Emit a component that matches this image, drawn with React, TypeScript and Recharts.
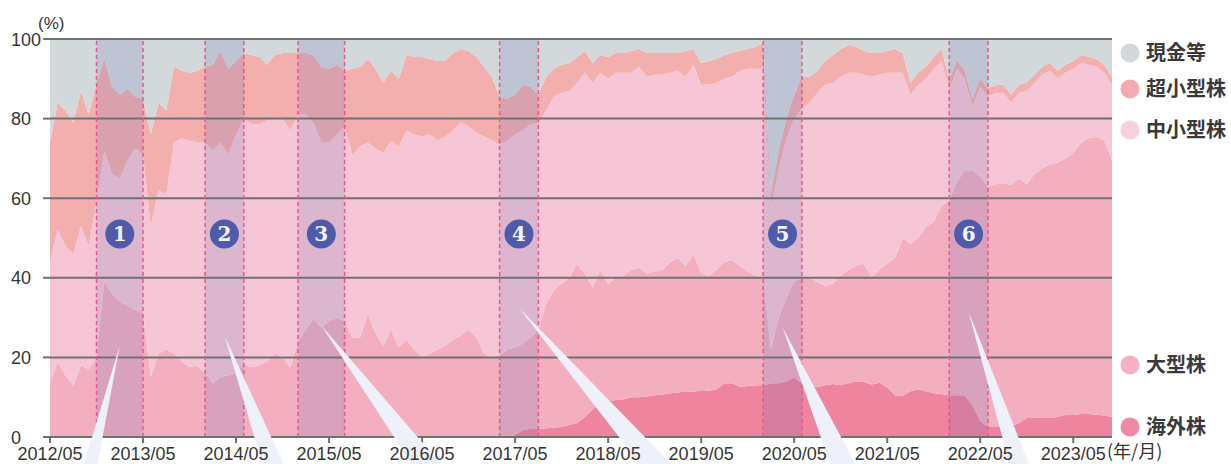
import React from 'react';
import { AreaChart, Area, XAxis, YAxis, ReferenceArea, ReferenceLine, ReferenceDot } from 'recharts';

// ---- categories (monthly, 2012/05 .. 2023/10) ----
const START_YEAR = 2012;
const START_MONTH = 5;
const N_MONTHS = 138;
const MONTHS: string[] = Array.from({ length: N_MONTHS }, (_, i) => {
  const m = START_MONTH - 1 + i;
  return `${START_YEAR + Math.floor(m / 12)}/${String((m % 12) + 1).padStart(2, '0')}`;
});

const X_TICK_LABELS = ['2012/05', '2013/05', '2014/05', '2015/05', '2016/05', '2017/05', '2018/05', '2019/05', '2020/05', '2021/05', '2022/05', '2023/05'];
const Y_TICKS = [0, 20, 40, 60, 80, 100];

// ---- series values (%), one row per year May..Apr ----
const OVERSEAS = [
  0, 0, 0, 0, 0, 0, 0, 0, 0, 0, 0, 0,
  0, 0, 0, 0, 0, 0, 0, 0, 0, 0, 0, 0,
  0, 0, 0, 0, 0, 0, 0, 0, 0, 0, 0, 0,
  0, 0, 0, 0, 0, 0, 0, 0, 0, 0, 0, 0,
  0, 0, 0, 0, 0, 0, 0, 0, 0, 0, 0, 0,
  0.5, 1.8, 2, 2, 2.2, 2.3, 2.5, 3, 3.5, 5, 7, 8.5,
  9, 9.3, 9.5, 10, 10, 10.2, 10.5, 10.7, 11, 11.2, 11.5, 11.3,
  11.8, 11.6, 12, 13.5, 13.5, 12.6, 12.8, 13, 13, 13.5, 13.5, 14,
  15, 13.5, 12.8, 12.5, 13, 13.3, 13, 13.5, 14, 13.8, 13.2, 13.6,
  12.5, 10.5, 10.3, 11.5, 12, 11.5, 11, 10.8, 10.5, 10.5, 10.5, 8,
  4, 2.5, 2.5, 2.5, 2.8, 3.5, 4.8, 4.8, 4.8, 4.8, 5, 5.5,
  5.5, 5.8, 5.8, 5.6, 5.4, 5,
];

const LARGE = [
  13.5, 19, 15.5, 13, 18, 17, 20, 39, 36, 34, 33, 32,
  31, 15, 21, 22, 21, 19, 17.5, 18, 16, 13.5, 15, 15.5,
  16, 18.5, 17.5, 18, 19, 21, 20, 17.5, 24, 27, 29.5, 27.5,
  29, 30, 29, 25, 25, 31, 26, 23, 27, 22.5, 24.5, 22,
  20, 21, 22, 23, 24.5, 25.5, 27, 25, 21, 20, 20.5, 22,
  22, 21.7, 23, 25, 31.3, 34.7, 36, 37, 40, 36, 30.5, 33.5,
  29.5, 30.7, 31, 32, 32.5, 30.8, 31, 31.3, 33, 33.8, 31.5, 34.7,
  29.2, 28.9, 30, 30.5, 31, 30.4, 28.7, 27.5, 27, 8.5, 16.5, 21,
  24, 26.5, 27.2, 26.5, 25, 25.2, 27.5, 28.5, 29, 29.7, 26.8, 28.4,
  31, 34.5, 39.7, 37, 38, 41.3, 43, 47.2, 49, 53.5, 56.5, 59,
  61.3, 60.3, 61, 61.3, 60.5, 61.5, 58.7, 61.2, 62.7, 63.7, 64, 64.5,
  66, 68.2, 69.4, 69.8, 69.2, 64.6,
];

const MIDSMALL = [
  30.5, 33, 32.5, 33, 35, 31, 39, 33, 30, 31, 36.5, 40.5,
  40, 38, 41, 39, 53, 56, 57, 56, 58, 58.5, 59, 55.5,
  60, 61.5, 61, 60.5, 60.5, 59, 60, 59.5, 57, 54, 49.5, 46.5,
  45, 46, 49, 46, 48, 43, 46.5, 48.5, 47.5, 50.5, 52.5, 54,
  55.5, 55, 52.5, 52.5, 52.5, 53.5, 51, 51.5, 54.5, 54.5, 53, 52.5,
  53.5, 53.5, 53.5, 52, 48.5, 48.5, 48, 47, 45.5, 50.5, 51.5, 49.5,
  51.5, 51.5, 51, 49.5, 50.5, 49.5, 49.5, 49, 47.5, 47, 47.5, 47.5,
  47.5, 48, 47, 46, 46, 49, 51, 52, 52.5, 36, 37, 40,
  41, 42.5, 44, 47.5, 50.5, 50.5, 50, 49.5, 48.5, 47.5, 50.5, 49,
  48, 46.5, 41.5, 37.5, 38.5, 37.2, 38.5, 36.5, 28, 28.5, 23, 16,
  22.7, 22.9, 22.9, 22.7, 20.7, 21.5, 23.5, 23, 23.5, 23.5, 21, 21.5,
  21, 20, 18.3, 17.6, 16.9, 18.9,
];

const MICRO = [
  30, 32, 34, 33, 34, 33, 30, 23, 22, 21, 18, 13,
  14, 23, 22, 21, 19, 17, 17, 18, 19, 21.5, 23, 21.5,
  18.5, 16.5, 17.5, 17, 14, 16, 16.5, 19.5, 15.5, 15.5, 17, 19,
  18.5, 17.5, 14, 21.5, 20, 21, 20, 17.5, 17.5, 17, 19, 19.5,
  20, 19, 20, 19, 19.5, 18.5, 19, 19, 17.5, 16, 12, 10.5,
  10, 11.5, 9.5, 7, 8.5, 7, 7, 7, 6.5, 5.5, 5, 4.5,
  5.5, 5, 5, 5.5, 4.5, 6, 5.5, 5.5, 5, 4.5, 6.5, 4,
  5.5, 6, 6, 6, 6, 5, 5, 5.5, 6.5, 3, 5, 5,
  6, 8, 6.5, 5.5, 6, 7, 7, 7, 6.5, 6, 6, 5.5,
  5.5, 6, 5, 3, 3, 3, 3, 3, 2.2, 2.2, 2, 2,
  2, 2, 2, 2, 2, 2, 2, 2, 2, 2, 2, 2,
  2, 2, 2, 2, 2, 2,
];

const CASH = [
  26, 16, 18, 21, 13, 19, 11, 5, 12, 14, 12.5, 14.5,
  15, 24, 16, 18, 7, 8, 8.5, 8, 7, 6.5, 3, 7.5,
  5.5, 3.5, 4, 4.5, 6.5, 4, 3.5, 3.5, 3.5, 3.5, 4, 7,
  7.5, 6.5, 8, 7.5, 7, 5, 7.5, 11, 8, 10, 4, 4.5,
  4.5, 5, 5.5, 5.5, 3.5, 2.5, 3, 4.5, 7, 9.5, 14.5, 15,
  14, 11.5, 12, 14, 9.5, 7.5, 6.5, 6, 4.5, 3, 6, 4,
  4.5, 3.5, 3.5, 3, 2.5, 3.5, 3.5, 3.5, 3.5, 3.5, 3, 2.5,
  6, 5.5, 5, 4, 3.5, 3, 2.5, 2, 1, 39, 28, 20,
  14, 9.5, 9.5, 8, 5.5, 4, 2.5, 1.5, 2, 3, 3.5, 3.5,
  3, 2.5, 3.5, 11, 8.5, 7, 4.5, 2.5, 10.3, 5.3, 8, 15,
  10, 12.3, 11.6, 11.5, 14, 11.5, 11, 9, 7, 6, 8, 6.5,
  5.5, 4, 4.5, 5, 6.5, 9.5,
];

// ---- highlighted periods ----
const BAND_FROM = ['2012/11', '2014/01', '2015/01', '2017/03', '2020/01', '2022/01'];
const BAND_TO = ['2013/05', '2014/06', '2015/07', '2017/08', '2020/06', '2022/06'];
const BAND_NUMBERS = ['1', '2', '3', '4', '5', '6'];
const BADGE_VALUE = 51;
// callout wedges: apex value (%), base horizontal offset & width (px)
const CALLOUT_APEX = [23, 25.5, 28, 32.5, 27.5, 31.5];
const CALLOUT_DX = [-30, 50, 108, 140, 62, 52];
const CALLOUT_W = [14, 22, 30, 32, 26, 20];

// ---- series meta ----
const SERIES = [
  { key: 'overseas', name: '海外株', color: '#ee849e', legend: '#ee8aa3' },
  { key: 'large', name: '大型株', color: '#f3afc0', legend: '#f3b1c2' },
  { key: 'midsmall', name: '中小型株', color: '#f7c6d6', legend: '#f8d0dd' },
  { key: 'micro', name: '超小型株', color: '#f3aeae', legend: '#f3abae' },
  { key: 'cash', name: '現金等', color: '#d3d8db', legend: '#d3d7db' },
];
const LEGEND_ORDER = ['cash', 'micro', 'midsmall', 'large', 'overseas'];
const LEGEND_Y = [53, 89, 130, 365, 427];

const data = MONTHS.map((m, i) => ({
  idx: i,
  month: m,
  overseas: OVERSEAS[i],
  large: LARGE[i],
  midsmall: MIDSMALL[i],
  micro: MICRO[i],
  cash: CASH[i],
}));

const idxOf = (label: string) => MONTHS.indexOf(label);
const X_TICKS = X_TICK_LABELS.map(idxOf);

const GRID = '#707070';
const TEXT = '#363636';
const FONT = '"Liberation Sans", Arial, Helvetica, sans-serif';
const CJK = '"Noto Sans CJK JP", "Noto Sans", sans-serif';

const YTick = (props: any) => {
  const { y, payload } = props;
  return (
    <g>
      <line x1={43} x2={50} y1={y} y2={y} stroke={GRID} strokeWidth={2} />
      <text x={11} y={y} dy={6.5} textAnchor="start" fontSize={18} fontFamily={FONT} fill={TEXT}>
        {payload.value}
      </text>
    </g>
  );
};

const XTick = (props: any) => {
  const { x, y, payload } = props;
  return (
    <text x={x} y={y} dy={15} textAnchor="middle" fontSize={18} fontFamily={FONT} fill={TEXT}>
      {MONTHS[payload.value]}
    </text>
  );
};

export default function App() {
  return (
    <div style={{ position: 'absolute', left: 0, top: 0, width: 1231, height: 464, background: '#fff', overflow: 'hidden' }}>
      <AreaChart
        width={1231}
        height={464}
        data={data}
        margin={{ top: 39, right: 119, left: 0, bottom: 0 }}
      >
        <XAxis
          dataKey="idx"
          type="number"
          domain={[0, N_MONTHS - 1]}
          ticks={X_TICKS}
          interval={0}
          height={27}
          tick={<XTick />}
          tickSize={6}
          tickLine={{ stroke: GRID, strokeWidth: 2 }}
          axisLine={{ stroke: GRID, strokeWidth: 2 }}
          allowDataOverflow
        />
        <YAxis
          type="number"
          domain={[0, 100]}
          ticks={Y_TICKS}
          interval={0}
          width={50}
          tick={<YTick />}
          tickLine={false}
          axisLine={false}
          allowDataOverflow
        />
        {SERIES.map((s) => (
          <Area
            key={s.key}
            dataKey={s.key}
            name={s.name}
            stackId="1"
            type="linear"
            stroke="none"
            fill={s.color}
            fillOpacity={1}
            dot={false}
            activeDot={false}
            isAnimationActive={false}
          />
        ))}
        {BAND_FROM.map((f, k) => (
          <ReferenceArea
            key={'band' + k}
            x1={idxOf(f)}
            x2={idxOf(BAND_TO[k])}
            y1={0}
            y2={100}
            fill="#5a62aa"
            fillOpacity={0.17}
            stroke="none"
          />
        ))}
        {Y_TICKS.filter((v) => v > 0).map((v) => (
          <ReferenceLine key={'g' + v} y={v} stroke={GRID} strokeWidth={2} />
        ))}
        {BAND_FROM.flatMap((f, k) => [
          <ReferenceLine key={'dl' + k} x={idxOf(f)} stroke="#e9558b" strokeWidth={1.5} strokeDasharray="4 3" />,
          <ReferenceLine key={'dr' + k} x={idxOf(BAND_TO[k])} stroke="#e9558b" strokeWidth={1.5} strokeDasharray="4 3" />,
        ])}
        {BAND_FROM.map((f, k) => (
          <ReferenceDot
            key={'badge' + k}
            x={(idxOf(f) + idxOf(BAND_TO[k])) / 2}
            y={BADGE_VALUE}
            shape={(p: any) => (
              <g>
                <circle cx={p.cx} cy={p.cy} r={14.5} fill="#4f5aa9" />
                <text x={p.cx} y={p.cy} dy={7} textAnchor="middle" fontSize={20} fontWeight="bold" fontFamily='"DejaVu Serif", serif' fill="#f2f2fa">
                  {BAND_NUMBERS[k]}
                </text>
              </g>
            )}
          />
        ))}
        {BAND_FROM.map((f, k) => (
          <ReferenceDot
            key={'callout' + k}
            x={(idxOf(f) + idxOf(BAND_TO[k])) / 2}
            y={CALLOUT_APEX[k]}
            shape={(p: any) => {
              const bx = p.cx + CALLOUT_DX[k];
              const by = 468;
              const w = CALLOUT_W[k] / 2;
              return <polygon points={`${p.cx},${p.cy} ${bx - w},${by} ${bx + w},${by}`} fill="#eef0fa" />;
            }}
          />
        ))}
      </AreaChart>
      <svg width={1231} height={464} style={{ position: 'absolute', left: 0, top: 0, pointerEvents: 'none' }}>
        <text x={38} y={29} fontSize={17} fontFamily={FONT} fill={TEXT}>(%)</text>
        <text x={1107} y={458} fontSize={18} fontFamily={CJK} fill={TEXT}>(年/月)</text>
        {LEGEND_ORDER.map((key, k) => {
          const s = SERIES.find((t) => t.key === key)!;
          return (
            <g key={key}>
              <circle cx={1130} cy={LEGEND_Y[k]} r={9.5} fill={s.legend} />
              <text x={1146} y={LEGEND_Y[k]} dy={7} fontSize={20} fontWeight="bold" fontFamily={CJK} fill="#3a3a3a">
                {s.name}
              </text>
            </g>
          );
        })}
      </svg>
    </div>
  );
}
